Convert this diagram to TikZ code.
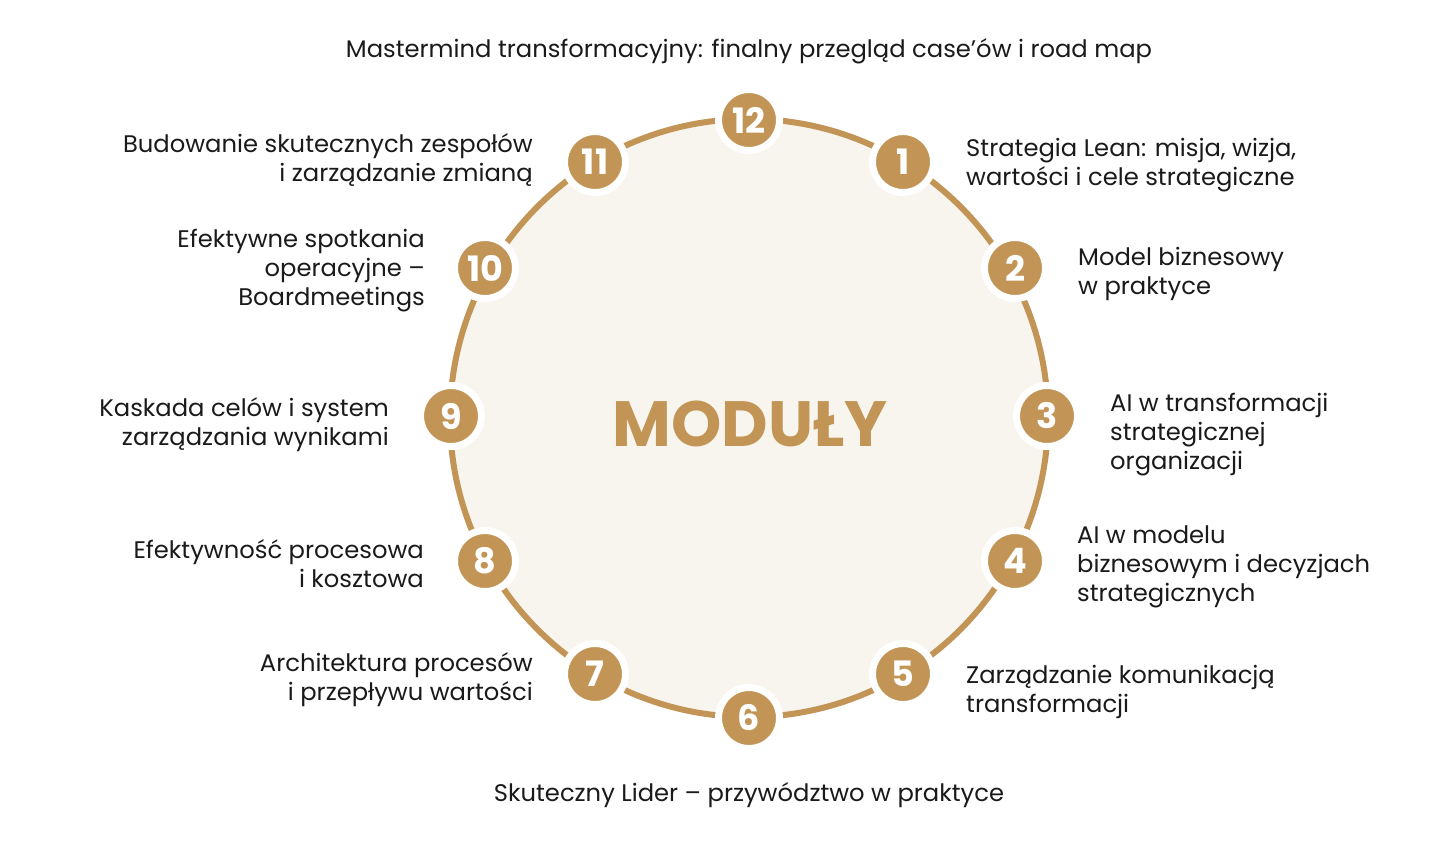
\documentclass[tikz,border=0pt]{standalone}
\usepackage{fontspec}
\setmainfont{Poppins}
\newfontfamily\txtfont[FakeStretch=1.01]{Poppins}
\usetikzlibrary{calc}
\definecolor{gold}{HTML}{C29556}
\definecolor{bg}{HTML}{F8F4EE}
\definecolor{ink}{HTML}{1A1A1A}
\newcommand{\lbl}[2]{\begin{tabular}[t]{@{}#1@{}}#2\end{tabular}}
\begin{document}
\begin{tikzpicture}[x=1pt,y=-1pt,
  txt/.style={inner sep=0pt, text=ink, font=\txtfont\fontsize{24}{29}\selectfont},
  num/.style={circle, fill=gold, draw=white, line width=7pt, minimum size=61pt, inner sep=0pt,
    text=white, font=\fontsize{35}{35}\selectfont\bfseries}]
\useasboundingbox (0,0) rectangle (1437,847);
\fill[white] (0,0) rectangle (1437,847);
\coordinate (c) at (749,418);
\node[circle, draw=gold, fill=bg, line width=6pt, minimum size=598pt, inner sep=0pt] (ring) at (c) {};
\node[inner sep=0pt, text=gold, font=\fontsize{64}{64}\selectfont\bfseries] (title) at (750,424) {MODUŁY};
\foreach \k/\x/\y in {12/749/120, 1/903/162, 2/1015/268, 3/1047/416, 4/1015/561, 5/903/674,
                      6/749/718, 7/595/674, 8/485/561, 9/451/416, 10/485/268, 11/595/162} {
  \node[num] (n\k) at (\x,\y) {\k};
}
\node[txt, anchor=base] (t12) at (749,57) {Mastermind transformacyjny: finalny przegląd case’ów i road map};
\node[txt, anchor=base west] (t1) at (966,156) {\lbl{l}{Strategia Lean: misja, wizja,\\wartości i cele strategiczne}};
\node[txt, anchor=base west] (t2) at (1078,265) {\lbl{l}{Model biznesowy\\w praktyce}};
\node[txt, anchor=base west] (t3) at (1110,411) {\lbl{l}{AI w transformacji\\strategicznej\\organizacji}};
\node[txt, anchor=base west] (t4) at (1077,543) {\lbl{l}{AI w modelu\\biznesowym i decyzjach\\strategicznych}};
\node[txt, anchor=base west] (t5) at (966,683) {\lbl{l}{Zarządzanie komunikacją\\transformacji}};
\node[txt, anchor=base] (t6) at (749,801) {Skuteczny Lider – przywództwo w praktyce};
\node[txt, anchor=base east] (t7) at (533,671) {\lbl{r}{Architektura procesów\\i przepływu wartości}};
\node[txt, anchor=base east] (t8) at (424,558) {\lbl{r}{Efektywność procesowa\\i kosztowa}};
\node[txt, anchor=base east] (t9) at (389,416) {\lbl{r}{Kaskada celów i system\\zarządzania wynikami}};
\node[txt, anchor=base east] (t10) at (425,247) {\lbl{r}{Efektywne spotkania\\operacyjne –\\Boardmeetings}};
\node[txt, anchor=base east] (t11) at (533,152) {\lbl{r}{Budowanie skutecznych zespołów\\i zarządzanie zmianą}};
\end{tikzpicture}
\end{document}
